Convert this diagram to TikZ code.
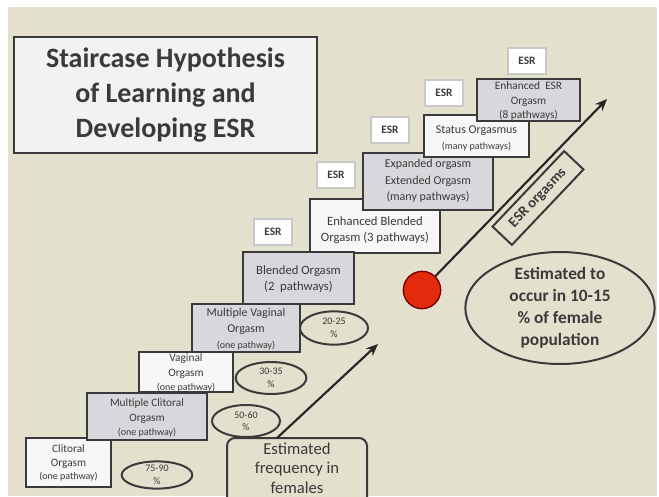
\documentclass[tikz,border=0pt]{standalone}
\usepackage{fontspec}
\setmainfont{Carlito}
\usetikzlibrary{fit,arrows.meta,shapes.geometric}
\definecolor{bg}{HTML}{E3E1CE}
\definecolor{ink}{HTML}{3A3A3A}
\definecolor{txt}{HTML}{3A3A3A}
\definecolor{graybox}{HTML}{D8D8DC}
\definecolor{whitebox}{HTML}{F7F7F7}
\definecolor{titlefill}{HTML}{F2F2F2}
\definecolor{redc}{HTML}{E42A0C}
\definecolor{esrline}{HTML}{C8C8C8}
\newcommand{\sm}{\fontsize{7.5}{9}\selectfont}
\begin{document}
\begin{tikzpicture}[x=0.75pt,y=-0.75pt,
  stepbox/.style={draw=ink, line width=1.5pt, inner sep=0pt},
  steptext/.style={align=center, text=txt, inner sep=0pt},
  esrbox/.style={draw=esrline, line width=1pt, fill=white, text=txt, inner sep=0pt,
    minimum width=28.5pt, minimum height=19.5pt, font=\bfseries\fontsize{8.5}{10}\selectfont},
  pct/.style={draw=ink, line width=1.5pt, ellipse, inner sep=0pt, align=center, text=txt,
    font=\fontsize{7.5}{9.5}\selectfont},
  arr/.style={draw=black!85, line width=1.6pt, -{Stealth[length=9pt,width=7.5pt]}}]
\useasboundingbox (0,0) rectangle (659,496);
\clip (0,0) rectangle (659,496);
\fill[white] (0,0) rectangle (659,496);
\fill[bg] (8,7) rectangle (657,496);

% title
\node[stepbox, fill=titlefill, fit={(14,37) (317,153)}] (title) {};
\node[text=txt, align=center, font=\bfseries\fontsize{21}{26.5}\selectfont] (titletext) at (title.center) {Staircase Hypothesis\\of Learning and\\Developing ESR};

% steps
\node[stepbox, fill=whitebox, fit={(26,438) (111,487)}] (clit) {};
\node[steptext, font=\fontsize{8.5}{10}\selectfont] (clitt) at (68.5,463) {Clitoral\\Orgasm\\{\sm(one pathway)}};
\node[stepbox, fill=graybox, fit={(87,393) (207,440)}] (mclit) {};
\node[steptext, font=\fontsize{8.5}{11}\selectfont] (mclitt) at (147,418) {Multiple Clitoral\\Orgasm\\{\sm(one pathway)}};
\node[stepbox, fill=whitebox, fit={(139,352) (233,392)}] (vag) {};
\node[steptext, font=\fontsize{8.5}{11}\selectfont] (vagt) at (186,373) {Vaginal\\Orgasm\\{\sm(one pathway)}};
\node[stepbox, fill=graybox, fit={(192,304) (300,352)}] (mvag) {};
\node[steptext, font=\fontsize{9}{12}\selectfont] (mvagt) at (246,329) {Multiple Vaginal\\Orgasm\\{\sm(one pathway)}};
\node[stepbox, fill=whitebox, fit={(310,199) (440,253)}] (eblend) {};
\node[steptext, font=\fontsize{9.5}{12}\selectfont] (eblendt) at (375,230) {Enhanced Blended\\Orgasm (3 pathways)};
\node[stepbox, fill=graybox, fit={(243,252) (354,304)}] (blend) {};
\node[steptext, font=\fontsize{9.5}{12}\selectfont] (blendt) at (298.5,279) {Blended Orgasm\\(2\ \ pathways)};
\node[stepbox, fill=graybox, fit={(363,153) (493,210)}] (expand) {};
\node[steptext, font=\fontsize{9}{12.5}\selectfont] (expandt) at (428,181) {Expanded orgasm\\Extended Orgasm\\(many pathways)};
\node[stepbox, fill=whitebox, fit={(424,115) (529,157)}] (status) {};
\node[steptext, font=\fontsize{9}{12}\selectfont] (statust) at (476.5,138) {Status Orgasmus\\{\sm(many pathways)}};
\node[stepbox, fill=graybox, fit={(477,79) (580,121)}] (eesr) {};
\node[steptext, font=\fontsize{8.5}{11}\selectfont] (eesrt) at (528.5,101) {Enhanced\ \ ESR\\Orgasm\\(8 pathways)};

% ESR labels
\node[esrbox] (esr1) at (273,232) {ESR};
\node[esrbox] (esr2) at (336,175) {ESR};
\node[esrbox] (esr3) at (390,130) {ESR};
\node[esrbox] (esr4) at (444,93) {ESR};
\node[esrbox] (esr5) at (527,61) {ESR};

% percentage ellipses
\node[pct, minimum width=53pt, minimum height=19.5pt] (p1) at (157,475) {75-90\\\%};
\node[pct, minimum width=51pt, minimum height=24pt] (p2) at (246,421) {50-60\\\%};
\node[pct, minimum width=53pt, minimum height=24pt] (p3) at (271,378) {30-35\\\%};
\node[pct, minimum width=51pt, minimum height=25pt] (p4) at (334,328) {20-25\\\%};

% frequency box and arrow
\node[draw=ink, line width=1.5pt, fill=bg, rounded corners=6pt, inner sep=0pt, fit={(227,438) (367,515)}] (freq) {};
\node[text=txt, align=center, font=\fontsize{12.5}{14.5}\selectfont] (freqtext) at (297,468) {Estimated\\frequency in\\females};
\coordinate (a1s) at (277,438);
\coordinate (a1e) at (378,344);
\draw[arr] (a1s) -- (a1e);

% red dot and ESR arrow
\node[circle, fill=redc, draw=red!45!black, line width=1pt, minimum size=28pt, inner sep=0pt] (dot) at (422,290) {};
\coordinate (a2e) at (607,99);
\draw[arr] (dot) -- (a2e);
\node[draw=ink, line width=1.5pt, fill=bg, rotate=46.5, minimum width=78pt, minimum height=20pt, inner sep=0pt, text=txt, font=\bfseries\fontsize{11}{13}\selectfont] (esrorg) at (538,198) {ESR orgasms};

% estimated ellipse
\node[draw=ink, line width=1.5pt, ellipse, fill=bg, minimum width=142pt, minimum height=84pt, inner sep=0pt] (est) at (560,308) {};
\node[text=txt, align=center, font=\bfseries\fontsize{13}{16.5}\selectfont] (esttext) at (560,308) {Estimated to\\occur in 10-15\\\% of female\\population};
\end{tikzpicture}
\end{document}
